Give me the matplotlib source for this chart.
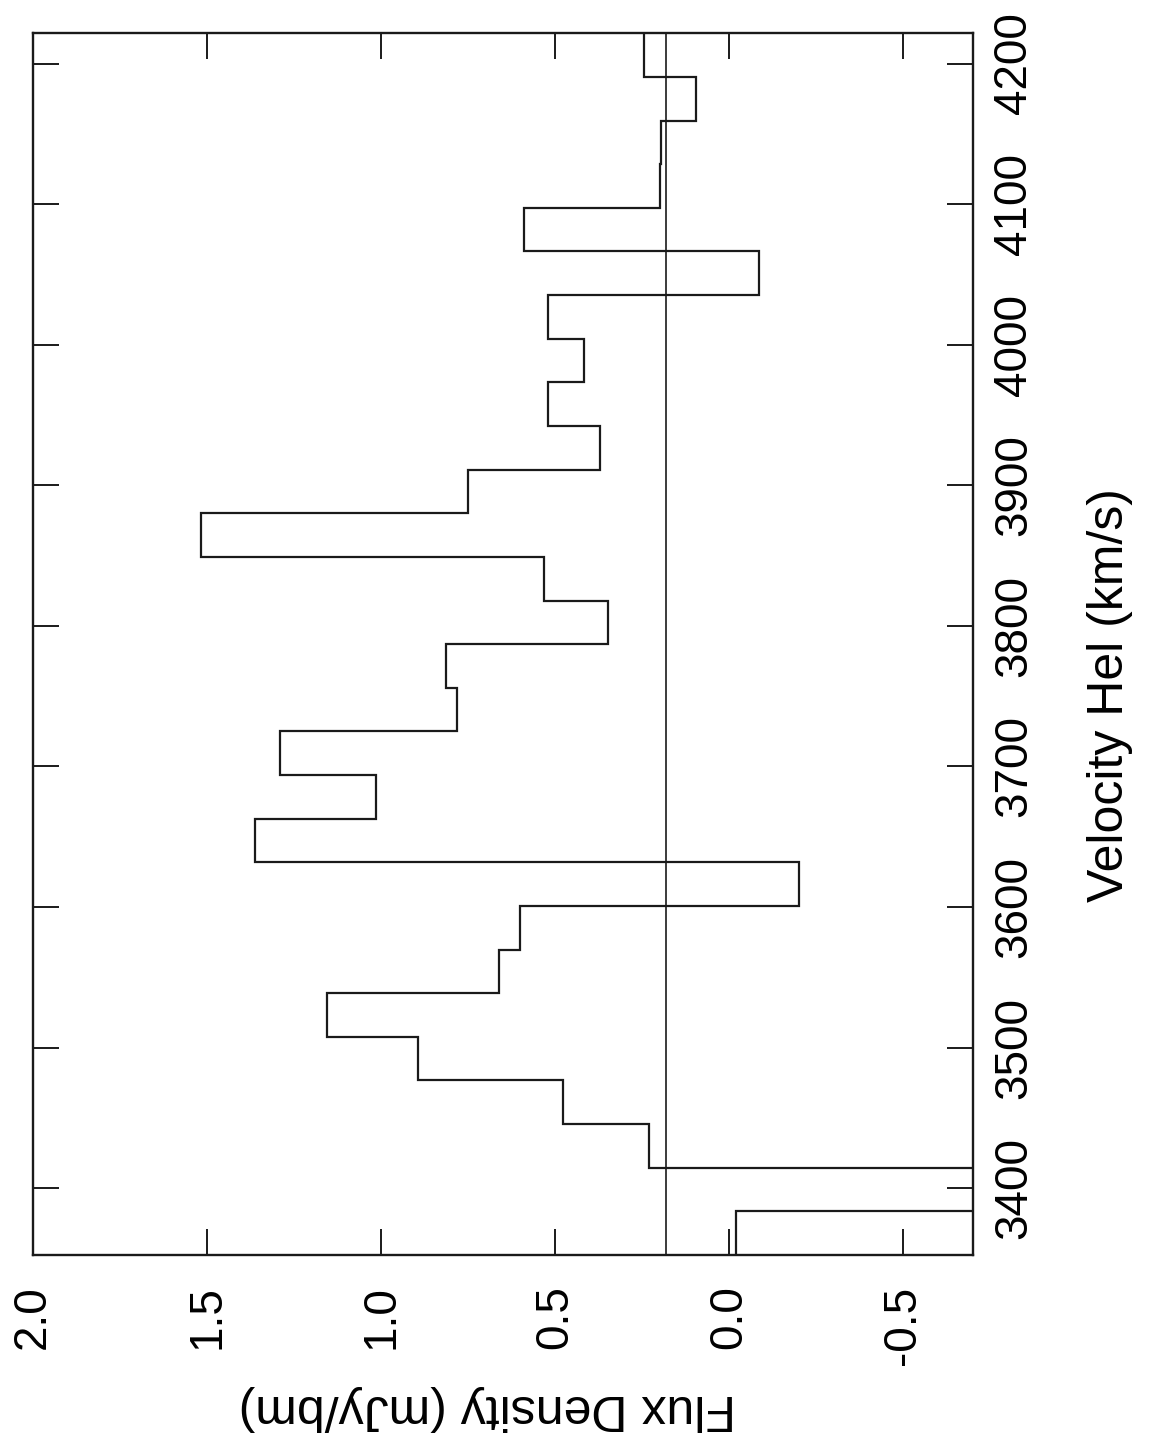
import numpy as np
import matplotlib
matplotlib.use("Agg")
import matplotlib.pyplot as plt

plt.rcParams['font.family'] = ['Liberation Sans', 'DejaVu Sans']

# Channel edges (heliocentric velocity, km/s) and flux per channel (mJy/bm)
v_start = 3352.4
chan_width = 31.04
flux = [-0.02, -1.0, 0.23, 0.478, 0.894, 1.154, 0.660, 0.602, -0.201, 1.363,
        1.014, 1.289, 0.781, 0.813, 0.348, 0.533, 1.517, 0.750, 0.371, 0.521,
        0.417, 0.521, -0.087, 0.589, 0.198, 0.195, 0.095, 0.246]
edges = [v_start + chan_width * k for k in range(len(flux) + 1)]
baseline_level = 0.18

flux_ticks = [2.0, 1.5, 1.0, 0.5, 0.0, -0.5]
flux_ticklabels = ['2.0', '1.5', '1.0', '0.5', '0.0', '-0.5']
vel_ticks = [3400, 3500, 3600, 3700, 3800, 3900, 4000, 4100, 4200]

fig = plt.figure(figsize=(11.5, 14.46), dpi=100)
ax = fig.add_axes([33/1150, 1 - 1255/1446, (972.8 - 33)/1150, (1255 - 33.3)/1446])

col = '#1a1a1a'
ax.stairs(flux, edges, orientation='horizontal', baseline=None,
          color=col, linewidth=1.6)
ax.axvline(baseline_level, color=col, linewidth=1.2)

ax.set_xlim(2.0, -0.70)
ax.set_ylim(edges[0], edges[-1])

ax.set_xticks(flux_ticks)
ax.set_xticklabels(flux_ticklabels, rotation=90, fontsize=33)
ax.set_yticks(vel_ticks)
ax.set_yticklabels([str(v) for v in vel_ticks], rotation=90, fontsize=33,
                   va='center')

ax.tick_params(direction='in', length=19, width=1.4, color=col,
               top=True, right=True, bottom=True, left=True,
               labelbottom=True, labelright=True, labelleft=False, labeltop=False)
ax.tick_params(axis='x', pad=22)
ax.tick_params(axis='y', pad=14)

for s in ax.spines.values():
    s.set_linewidth(1.7)
    s.set_color(col)

ax.set_xlabel('Flux Density (mJy/bm)', fontsize=36, rotation=180,
              ha='center', va='top')
ax.xaxis.set_label_coords(0.483, -0.106)

ax.yaxis.set_label_position('right')
ylab = ax.set_ylabel('Velocity Hel (km/s)', fontsize=36, rotation=90,
                     ha='center', va='center')
ylab.set_rotation_mode('default')
ax.yaxis.set_label_coords(1.146, 0.458)

fig.savefig('out.png', dpi=100, facecolor='white')
